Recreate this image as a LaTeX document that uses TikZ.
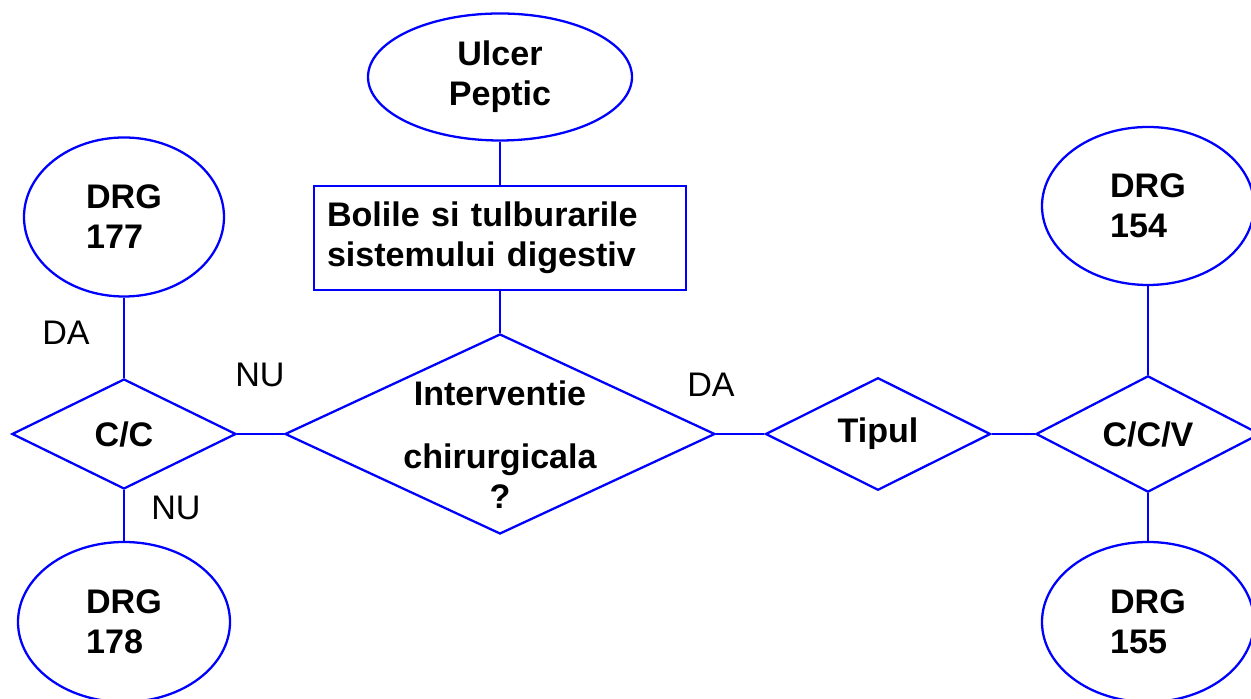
\documentclass[tikz,border=0pt]{standalone}
\usepackage{fontspec}
\setmainfont{Liberation Sans}
\usetikzlibrary{shapes.geometric}

\newcommand{\fmare}{\fontsize{19.4}{22.7}\selectfont}

\begin{document}
\begin{tikzpicture}[
    linie/.style = {
        draw       = blue,
        line width = 1.3pt
    },
    elip/.style = {
        ellipse,
        linie,
        font       = \fmare\bfseries,
        inner sep  = 0pt
    },
    caseta/.style = {
        rectangle,
        linie,
        font            = \fmare\bfseries,
        align           = left,
        text width      = 6.92cm,
        inner sep       = 0.26cm,
        minimum height  = 2.08cm
    },
    romb/.style = {
        diamond,
        linie,
        font       = \fmare\bfseries,
        inner sep  = 0pt
    },
    etich/.style = {
        font       = \fmare,
        inner sep  = 0pt
    }
]

% ================================================================
%  CADRU (pagina taiata ca in original)
% ================================================================

\clip (0, 0) rectangle (25.02, 13.98);

% ================================================================
%  RAMURA CENTRALA
% ================================================================

\node[elip, minimum width=5.28cm, minimum height=2.54cm, align=center]
    (ulcer) at (10.00, 12.44) {Ulcer\\Peptic};

\node[caseta] (boli) at (10.00, 9.22)
    {Bolile si tulburarile\\sistemului digestiv};

\node[romb, minimum width=8.60cm, minimum height=4.00cm]
    (interv) at (10.00, 5.30) {};
\node[font=\fmare\bfseries, align=center, inner sep=0pt]
    (intervtxt) at (10.00, 5.08) {Interventie\\[0.46cm]chirurgicala\\?};

% ================================================================
%  RAMURA STANGA (NU)
% ================================================================

\node[romb, minimum width=4.48cm, minimum height=2.20cm]
    (cc) at (2.48, 5.30) {C/C};

\node[elip, minimum width=4.00cm, minimum height=3.18cm, align=left]
    (drg177) at (2.48, 9.64) {DRG\\177};

\node[elip, minimum width=4.24cm, minimum height=3.20cm, align=left]
    (drg178) at (2.48, 1.54) {DRG\\178};

% ================================================================
%  RAMURA DREAPTA (DA)
% ================================================================

\node[romb, minimum width=4.50cm, minimum height=2.24cm]
    (tipul) at (17.56, 5.30) {Tipul};

\node[romb, minimum width=4.48cm, minimum height=2.20cm]
    (ccv) at (22.96, 5.30) {C/C/V};

\node[elip, minimum width=4.24cm, minimum height=3.16cm, align=left]
    (drg154) at (22.96, 9.86) {DRG\\154};

\node[elip, minimum width=4.24cm, minimum height=3.20cm, align=left]
    (drg155) at (22.96, 1.54) {DRG\\155};

% ================================================================
%  LEGATURI
% ================================================================

\draw[linie] (ulcer) -- (boli);
\draw[linie] (boli) -- (interv);
\draw[linie] (cc) -- (interv);
\draw[linie] (drg177) -- (cc);
\draw[linie] (cc) -- (drg178);
\draw[linie] (interv) -- (tipul);
\draw[linie] (tipul) -- (ccv);
\draw[linie] (drg154) -- (ccv);
\draw[linie] (ccv) -- (drg155);

% ================================================================
%  ETICHETE DA / NU
% ================================================================

\node[etich] (da1) at (1.32, 7.32) {DA};
\node[etich] (nu1) at (5.20, 6.48) {NU};
\node[etich] (nu2) at (3.52, 3.82) {NU};
\node[etich] (da2) at (14.22, 6.28) {DA};

\end{tikzpicture}
\end{document}
